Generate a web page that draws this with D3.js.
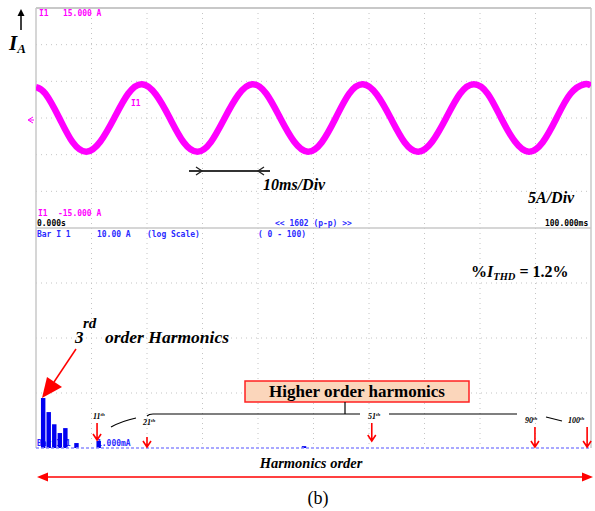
<!DOCTYPE html>
<html>
<head>
<meta charset="utf-8">
<script src="https://cdn.jsdelivr.net/npm/d3@7"></script>
<style>
  body { margin: 0; background: #fff; }
  svg { display: block; }
  .mono { font-family: "DejaVu Sans Mono", monospace; }
  .serif { font-family: "Liberation Serif", "Times New Roman", serif; }
</style>
</head>
<body>
<svg class="chart"></svg>
<script>
// current waveform (time in ms, current in A)
var waveTime = [0.0, 1.7, 4.2, 6.6, 9.1, 11.6, 14.1, 16.6, 19.1, 21.6, 24.1, 26.6, 29.1, 31.5,
  34.0, 36.5, 39.0, 41.5, 44.0, 46.5, 49.0, 51.5, 54.0, 56.4, 58.9, 61.4, 63.9, 66.4, 68.9,
  71.4, 73.9, 76.4, 78.9, 81.4, 83.8, 86.3, 88.8, 91.3, 93.8, 96.3, 98.8, 100.0];
var waveCurrent = [4.2, 3.3, 0.0, -3.3, -4.6, -3.2, 0.0, 3.3, 4.6, 3.2, 0.0, -3.3, -4.6, -3.3,
  0.0, 3.2, 4.6, 3.3, 0.0, -3.2, -4.6, -3.3, 0.0, 3.3, 4.6, 3.2, 0.0, -3.3, -4.6,
  -3.2, 0.0, 3.3, 4.6, 3.3, 0.0, -3.2, -4.6, -3.3, 0.0, 3.3, 4.6, 4.4];

// harmonic spectrum (log scale, amps)
var harmOrder = [1, 2, 3, 4, 5, 7, 11, 48];
var harmAmps = [0.0081, 0.0045, 0.0027, 0.00187, 0.0023, 0.00123, 0.00134, 0.00108];

// annotated harmonic arrows
var markPos = [11, 20, 60.5, 89.9, 99.3];
var markLabel = ["11", "21", "51", "90", "100"];

var timeTicks = [10, 20, 30, 40, 50, 60, 70, 80, 90];
var ampTicks = [-10, -5, 0, 5, 10];
var logTicks = [0.01, 0.1, 1];

var width = 595, height = 511;
var plotLeft = 36, plotRight = 591, plotTop = 8, plotMid = 228, plotBottom = 448;

var svg = d3.select(".chart").attr("width", width).attr("height", height);

var x = d3.scaleLinear().domain([0, 100]).range([plotLeft, plotRight]);
var y = d3.scaleLinear().domain([-15, 15]).range([plotMid, plotTop]);
var yLog = d3.scaleLog().domain([0.001, 10]).range([plotBottom, plotMid]);

// dotted grid
var grid = svg.append("g").attr("stroke", "#c4c4c4").attr("stroke-width", 1)
    .attr("stroke-dasharray", "1,4");
grid.selectAll(".vx").data(timeTicks).enter().append("line")
    .attr("x1", function(d) { return x(d); }).attr("x2", function(d) { return x(d); })
    .attr("y1", plotTop).attr("y2", plotBottom);
grid.selectAll(".hy").data(ampTicks).enter().append("line")
    .attr("x1", plotLeft).attr("x2", plotRight)
    .attr("y1", function(d) { return y(d); }).attr("y2", function(d) { return y(d); });
grid.selectAll(".hl").data(logTicks).enter().append("line")
    .attr("x1", plotLeft).attr("x2", plotRight)
    .attr("y1", function(d) { return yLog(d); }).attr("y2", function(d) { return yLog(d); });

// frame
var frame = svg.append("g").attr("stroke", "#c8c8c8").attr("fill", "none");
frame.append("line").attr("x1", plotLeft).attr("x2", plotRight).attr("y1", plotTop).attr("y2", plotTop).attr("stroke-width", 2);
frame.append("line").attr("x1", plotLeft).attr("x2", plotLeft).attr("y1", plotTop).attr("y2", plotBottom).attr("stroke-width", 1.5);
frame.append("line").attr("x1", plotRight).attr("x2", plotRight).attr("y1", plotTop).attr("y2", plotBottom).attr("stroke-width", 1.5);
frame.append("line").attr("x1", plotLeft).attr("x2", plotRight).attr("y1", plotMid).attr("y2", plotMid).attr("stroke-width", 1.5);

// scope readout text
function mono(str, px, py, color) {
  svg.append("text").attr("class", "mono")
      .attr("x", px).attr("y", py)
      .attr("font-size", 9)
      .attr("font-weight", "bold")
      .attr("textLength", str.length * 4.8)
      .attr("lengthAdjust", "spacingAndGlyphs")
      .attr("fill", color)
      .text(str);
}
var magenta = "#ff00ff", blue = "#2a2aff";
mono("I1", 39, 16, magenta);
mono("15.000 A", 63, 16, magenta);
mono("I1", 131, 106, magenta);
mono("I1", 38, 216, magenta);
mono("-15.000 A", 58, 216, magenta);
mono("0.000s", 37, 226, "#000");
mono("<< 1602 (p-p) >>", 275, 226, blue);
mono("100.000ms", 545, 226, "#000");
mono("Bar I 1", 37, 237, blue);
mono("10.00 A", 97, 237, blue);
mono("(log Scale)", 147, 237, blue);
mono("( 0 - 100)", 258, 237, blue);
mono("Bar I 1", 37, 446, blue);
mono("1.000mA", 97, 446, blue);

// trigger marker
svg.append("path").attr("d", "M28,120 L33,117 M28,120 L33,123 M29,120 H34")
    .attr("stroke", magenta).attr("stroke-width", 1).attr("fill", "none");

// current waveform
svg.append("clipPath").attr("id", "topClip").append("rect")
    .attr("x", plotLeft).attr("y", plotTop).attr("width", plotRight - plotLeft).attr("height", plotMid - plotTop);
var wave = waveTime.map(function(t, i) { return [t, waveCurrent[i]]; });
var line = d3.line()
    .x(function(d) { return x(d[0]); })
    .y(function(d) { return y(d[1]); })
    .curve(d3.curveNatural);
svg.append("path").datum(wave)
    .attr("clip-path", "url(#topClip)")
    .attr("d", line)
    .attr("fill", "none")
    .attr("stroke", magenta)
    .attr("stroke-width", 6.5)
    .attr("stroke-linejoin", "round");

// spectrum bars
var step = x(1) - x(0);
svg.selectAll(".bar").data(harmOrder).enter().append("rect")
    .attr("x", function(d) { return x(d) - 0.6; })
    .attr("y", function(d, i) { return yLog(harmAmps[i]); })
    .attr("width", step * 0.8)
    .attr("height", function(d, i) { return plotBottom - yLog(harmAmps[i]); })
    .attr("fill", "#0000f0");
svg.append("line").attr("x1", plotLeft).attr("x2", plotRight).attr("y1", plotBottom).attr("y2", plotBottom)
    .attr("stroke", "#8c8cff").attr("stroke-width", 1.5).attr("stroke-dasharray", "3,2");

// axis annotations
var serif = function(sel) { return sel.attr("class", "serif").attr("font-weight", "bold"); };

// I_A with up arrow
svg.append("line").attr("x1", 21).attr("x2", 21).attr("y1", 30).attr("y2", 15)
    .attr("stroke", "#000").attr("stroke-width", 1.5);
svg.append("path").attr("d", "M21,9 L17.5,16 L24.5,16 Z").attr("fill", "#000");
var ia = serif(svg.append("text")).attr("x", 9).attr("y", 50).attr("font-style", "italic").attr("font-size", 21);
ia.append("tspan").text("I");
ia.append("tspan").attr("font-size", 13).attr("dy", 3).text("A");

// 10ms/Div span
svg.append("line").attr("x1", 189).attr("x2", 270).attr("y1", 171).attr("y2", 171)
    .attr("stroke", "#333").attr("stroke-width", 2);
svg.append("path").attr("d", "M196,167 L202,171 L196,175 M264,167 L258,171 L264,175")
    .attr("stroke", "#222").attr("stroke-width", 1.3).attr("fill", "none");
serif(svg.append("text")).attr("x", 263).attr("y", 190).attr("font-style", "italic")
    .attr("font-size", 16).text("10ms/Div");
serif(svg.append("text")).attr("x", 528).attr("y", 203).attr("font-style", "italic")
    .attr("font-size", 16).text("5A/Div");

// THD
var thd = serif(svg.append("text")).attr("x", 471).attr("y", 277).attr("font-size", 16);
thd.append("tspan").text("%");
thd.append("tspan").attr("font-style", "italic").text("I");
thd.append("tspan").attr("font-style", "italic").attr("font-size", 10.5).attr("dy", 3).text("THD");
thd.append("tspan").attr("dy", -3).text(" = 1.2%");

// 3rd order label and arrow
serif(svg.append("text")).attr("x", 75).attr("y", 343).attr("font-style", "italic").attr("font-size", 17).text("3");
serif(svg.append("text")).attr("x", 83).attr("y", 328).attr("font-style", "italic").attr("font-size", 15).text("rd");
serif(svg.append("text")).attr("x", 105).attr("y", 343).attr("font-style", "italic").attr("font-size", 17.5).text("order Harmonics");
svg.append("line").attr("x1", 76).attr("y1", 349).attr("x2", 54).attr("y2", 382)
    .attr("stroke", "red").attr("stroke-width", 1.5);
svg.append("path").attr("d", "M42,398 L47,377 L62,387 Z").attr("fill", "red");

// higher order harmonics box and bracket
svg.append("rect").attr("x", 245).attr("y", 381).attr("width", 224).attr("height", 21)
    .attr("fill", "#fbd6bb").attr("stroke", "#ff2020").attr("stroke-width", 1.5);
serif(svg.append("text")).attr("x", 357).attr("y", 397).attr("text-anchor", "middle")
    .attr("font-size", 17).text("Higher order harmonics");
var br = svg.append("g").attr("stroke", "#000").attr("stroke-width", 1.2).attr("fill", "none");
br.append("path").attr("d", "M111,427 Q122,421 136,418");
br.append("path").attr("d", "M147,416 Q149,414 153,414 H360");
br.append("line").attr("x1", 389).attr("x2", 517).attr("y1", 414).attr("y2", 414);
br.append("line").attr("x1", 546).attr("x2", 562).attr("y1", 417).attr("y2", 421);
br.append("line").attr("x1", 345).attr("x2", 345).attr("y1", 402).attr("y2", 414);

// harmonic markers
var markTop = [423, 437, 423, 427, 427], markTip = [440, 447, 441, 447, 447];
var markLabelX = [93, 143, 368, 525, 568], markLabelY = [419, 425, 419, 423, 423];
var marks = svg.selectAll(".mark").data(markPos).enter().append("g");
marks.append("path")
    .attr("d", function(d, i) {
      var px = x(d);
      return "M" + px + "," + markTop[i] + " V" + markTip[i] +
        " M" + (px - 4) + "," + (markTip[i] - 6) + " L" + px + "," + markTip[i] +
        " L" + (px + 4) + "," + (markTip[i] - 6);
    })
    .attr("stroke", "red").attr("stroke-width", 1.6).attr("fill", "none");
var ml = serif(marks.append("text"))
    .attr("x", function(d, i) { return markLabelX[i]; })
    .attr("y", function(d, i) { return markLabelY[i]; })
    .attr("font-style", "italic").attr("font-size", 8);
ml.append("tspan").text(function(d, i) { return markLabel[i]; });
ml.append("tspan").attr("font-size", 5).attr("dy", -3).text("th");

// harmonics order axis
serif(svg.append("text")).attr("x", 311).attr("y", 468).attr("text-anchor", "middle")
    .attr("font-style", "italic").attr("font-size", 14.5).text("Harmonics order");
svg.append("line").attr("x1", 46).attr("x2", 584).attr("y1", 477).attr("y2", 477)
    .attr("stroke", "red").attr("stroke-width", 1.5);
svg.append("path").attr("d", "M37,477 L48,472.5 L48,481.5 Z M593,477 L582,472.5 L582,481.5 Z").attr("fill", "red");

svg.append("text").attr("class", "serif").attr("x", 318).attr("y", 504).attr("text-anchor", "middle")
    .attr("font-size", 18).text("(b)");
</script>
</body>
</html>
